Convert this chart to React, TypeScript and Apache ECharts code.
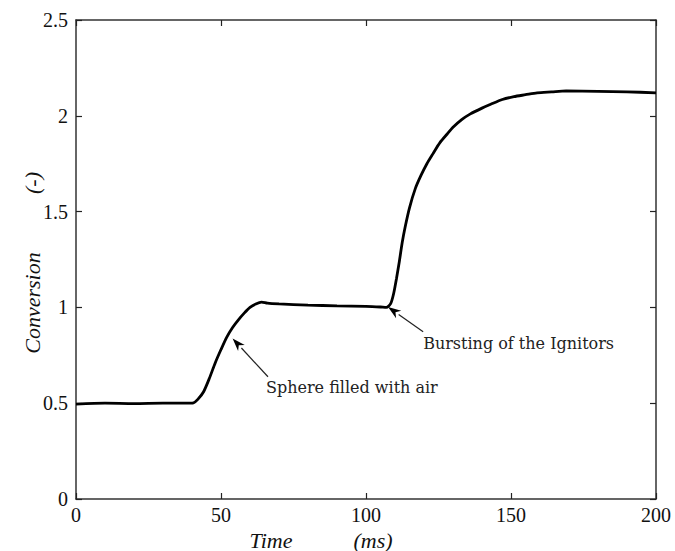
import React, { useEffect, useRef } from "react";
import * as echarts from "echarts";

const timeMs = [0, 10, 20, 30, 38, 40.5, 42, 44, 46, 48, 50, 52, 54, 56, 58, 60, 62, 64, 66, 70, 80, 90, 100, 105, 107, 108.5, 109.5, 110.5, 111.5, 112.5, 113.5, 115, 117, 119, 121, 123, 125.5, 128, 130, 133, 136, 140, 143, 147, 151, 155, 159, 164, 169, 180, 190, 200];
const conversion = [0.495, 0.5, 0.498, 0.5, 0.5, 0.502, 0.52, 0.56, 0.63, 0.71, 0.78, 0.845, 0.895, 0.935, 0.97, 1.0, 1.018, 1.028, 1.022, 1.018, 1.012, 1.008, 1.005, 1.002, 1.0, 1.02, 1.07, 1.15, 1.24, 1.34, 1.42, 1.52, 1.62, 1.69, 1.75, 1.8, 1.86, 1.905, 1.94, 1.98, 2.01, 2.04, 2.06, 2.085, 2.1, 2.11, 2.12, 2.125, 2.13, 2.128, 2.125, 2.12];

const xTicks = [0, 50, 100, 150, 200];
const yTicks = [0, 0.5, 1, 1.5, 2, 2.5];

// annotations: [arrow tip, arrow tail, text anchor] in data coords
const annotations = [
  { label: "Sphere filled with air", tip: [54, 0.838], tail: [66.2, 0.638], text: [65.5, 0.582] },
  { label: "Bursting of the Ignitors", tip: [107.6, 1.002], tail: [119.7, 0.873], text: [119.7, 0.812] },
];

const SERIF = "'Liberation Serif', 'DejaVu Serif', serif";
const ANNO = "'DejaVu Serif', 'Liberation Serif', serif";

export default function App() {
  const ref = useRef<HTMLDivElement>(null);
  useEffect(() => {
    if (!ref.current) return;
    const chart = echarts.init(ref.current, null, { renderer: "svg" });
    const axisLine = { show: true, onZero: false, lineStyle: { color: "#333", width: 1.5 } };
    const tick = { show: true, inside: true, length: 6, lineStyle: { color: "#222", width: 1.2 } };
    chart.setOption({
      animation: false,
      backgroundColor: "#fff",
      grid: { left: 76, right: 19, top: 20, bottom: 52 },
      xAxis: [
        {
          type: "value", min: 0, max: 200, interval: 50,
          axisLine, axisTick: tick, splitLine: { show: false },
          axisLabel: {
            color: "#111", fontFamily: SERIF, fontSize: 20, margin: 6,
            formatter: (v: number) => (xTicks.includes(v) ? String(v) : ""),
          },
        },
        {
          type: "value", position: "top", min: 0, max: 200, interval: 50,
          axisLine, axisTick: tick, axisLabel: { show: false }, splitLine: { show: false },
        },
      ],
      yAxis: [
        {
          type: "value", min: 0, max: 2.5, interval: 0.5,
          axisLine, axisTick: tick, splitLine: { show: false },
          axisLabel: {
            color: "#111", fontFamily: SERIF, fontSize: 20, margin: 8,
            formatter: (v: number) => (yTicks.includes(v) ? String(v) : ""),
          },
        },
        {
          type: "value", position: "right", min: 0, max: 2.5, interval: 0.5,
          axisLine, axisTick: tick, axisLabel: { show: false }, splitLine: { show: false },
        },
      ],
      series: [
        {
          type: "line",
          data: timeMs.map((t, i) => [t, conversion[i]]),
          showSymbol: false,
          smooth: 0.25,
          lineStyle: { color: "#000", width: 2.8 },
        },
      ],
    });

    const graphics: any[] = [];
    annotations.forEach((a) => {
      const tip = chart.convertToPixel({ gridIndex: 0 }, a.tip) as number[];
      const tail = chart.convertToPixel({ gridIndex: 0 }, a.tail) as number[];
      const tp = chart.convertToPixel({ gridIndex: 0 }, a.text) as number[];
      const dx = tail[0] - tip[0];
      const dy = tail[1] - tip[1];
      const len = Math.hypot(dx, dy);
      const ux = dx / len, uy = dy / len;
      const hl = 13, hw = 4.5;
      const bx = tip[0] + ux * hl, by = tip[1] + uy * hl;
      graphics.push({
        type: "line",
        shape: { x1: bx, y1: by, x2: tail[0], y2: tail[1] },
        style: { stroke: "#222", lineWidth: 1.2 },
      });
      graphics.push({
        type: "polygon",
        shape: {
          points: [
            [tip[0], tip[1]],
            [bx - uy * hw, by + ux * hw],
            [tip[0] + ux * hl * 0.7, tip[1] + uy * hl * 0.7],
            [bx + uy * hw, by - ux * hw],
          ],
        },
        style: { fill: "#000" },
      });
      graphics.push({
        type: "text",
        x: tp[0], y: tp[1],
        style: {
          text: a.label, fill: "#222", font: `16px ${ANNO}`,
          textAlign: "left", textVerticalAlign: "middle",
        },
      });
    });
    graphics.push({
      type: "text", x: 32, y: 303, rotation: Math.PI / 2,
      style: { text: "Conversion", fill: "#111", font: `italic 22px ${SERIF}`, textAlign: "center", textVerticalAlign: "middle" },
    });
    graphics.push({
      type: "text", x: 32, y: 183, rotation: Math.PI / 2,
      style: { text: "(-)", fill: "#111", font: `italic 22px ${SERIF}`, textAlign: "center", textVerticalAlign: "middle" },
    });
    graphics.push({
      type: "text", x: 271, y: 540,
      style: { text: "Time", fill: "#111", font: `italic 22px ${SERIF}`, textAlign: "center", textVerticalAlign: "middle" },
    });
    graphics.push({
      type: "text", x: 373, y: 540,
      style: { text: "(ms)", fill: "#111", font: `italic 22px ${SERIF}`, textAlign: "center", textVerticalAlign: "middle" },
    });
    chart.setOption({ graphic: graphics });
    return () => chart.dispose();
  }, []);
  return <div ref={ref} style={{ position: "fixed", left: 0, top: 0, width: 675, height: 551 }} />;
}
